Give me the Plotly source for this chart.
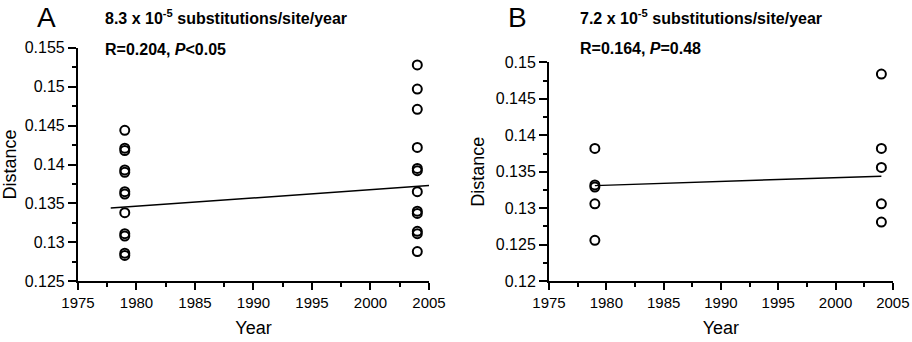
import plotly.graph_objects as go

# ---- data ----
years_a_1979 = [1979] * 12
dist_a_1979 = [0.1444, 0.1421, 0.1418, 0.1393, 0.1390, 0.1365, 0.1362, 0.1338, 0.1311, 0.1308, 0.1286, 0.1283]
years_a_2004 = [2004] * 12
dist_a_2004 = [0.1528, 0.1497, 0.1471, 0.1422, 0.1395, 0.1392, 0.1365, 0.1340, 0.1337, 0.1314, 0.1311, 0.1288]
fit_a_years = [1977.8, 2005]
fit_a_dist = [0.1344, 0.1373]

years_b_1979 = [1979] * 5
dist_b_1979 = [0.1382, 0.1332, 0.1329, 0.1306, 0.1256]
years_b_2004 = [2004] * 5
dist_b_2004 = [0.1484, 0.1382, 0.1356, 0.1306, 0.1281]
fit_b_years = [1979, 2004]
fit_b_dist = [0.1331, 0.1344]

x_ticks = [1975, 1980, 1985, 1990, 1995, 2000, 2005]
x_ticktext = ["1975", "1980", "1985", "1990", "1995", "2000", "2005"]
ya_ticks = [0.125, 0.13, 0.135, 0.14, 0.145, 0.15, 0.155]
ya_ticktext = ["0.125", "0.13", "0.135", "0.14", "0.145", "0.15", "0.155"]
yb_ticks = [0.12, 0.125, 0.13, 0.135, 0.14, 0.145, 0.15]
yb_ticktext = ["0.12", "0.125", "0.13", "0.135", "0.14", "0.145", "0.15"]

FONT = "Liberation Sans, Arial, Helvetica, sans-serif"

marker = dict(symbol="circle-open", size=9, color="black", line=dict(width=2, color="black"))

fig = go.Figure()
fig.add_trace(go.Scatter(x=years_a_1979 + years_a_2004, y=dist_a_1979 + dist_a_2004,
                         mode="markers", marker=marker, xaxis="x", yaxis="y", showlegend=False))
fig.add_trace(go.Scatter(x=fit_a_years, y=fit_a_dist, mode="lines",
                         line=dict(color="black", width=1.5), xaxis="x", yaxis="y", showlegend=False))
fig.add_trace(go.Scatter(x=years_b_1979 + years_b_2004, y=dist_b_1979 + dist_b_2004,
                         mode="markers", marker=marker, xaxis="x2", yaxis="y2", showlegend=False))
fig.add_trace(go.Scatter(x=fit_b_years, y=fit_b_dist, mode="lines",
                         line=dict(color="black", width=1.5), xaxis="x2", yaxis="y2", showlegend=False))

common_x = dict(range=[1975, 2005], tickvals=x_ticks, ticktext=x_ticktext, automargin=False,
                showline=True, linecolor="black", linewidth=2, ticks="outside",
                ticklen=7, tickwidth=1.5, tickcolor="black", showgrid=False, zeroline=False,
                tickfont=dict(size=15, color="black", family=FONT),
                minor=dict(dtick=2.5, tick0=1975, ticks="outside", ticklen=4, tickwidth=1.5, tickcolor="black", showgrid=False),
                title=dict(text="Year", font=dict(size=18, color="black", family=FONT), standoff=11))
common_y = dict(showline=True, linecolor="black", linewidth=2, ticks="outside", automargin=False,
                ticklen=8, tickwidth=1.5, tickcolor="black", showgrid=False, zeroline=False,
                tickfont=dict(size=16, color="black", family=FONT),
                title=dict(text="Distance", font=dict(size=18, color="black", family=FONT), standoff=6))

fig.update_layout(
    width=912, height=342,
    margin=dict(l=0, r=0, t=0, b=0),
    paper_bgcolor="white", plot_bgcolor="white",
    font=dict(family=FONT, color="black"),
    xaxis=dict(domain=[0.0855, 0.4704], anchor="y", **common_x),
    yaxis=dict(domain=[0.178, 0.860], anchor="x", range=[0.125, 0.155],
               tickvals=ya_ticks, ticktext=ya_ticktext,
               minor=dict(dtick=0.0025, tick0=0.125, ticks="outside", ticklen=4, tickwidth=1.5, tickcolor="black", showgrid=False),
               **common_y),
    xaxis2=dict(domain=[0.602, 0.979], anchor="y2", **common_x),
    yaxis2=dict(domain=[0.178, 0.8175], anchor="x2", range=[0.12, 0.15],
                tickvals=yb_ticks, ticktext=yb_ticktext,
                minor=dict(dtick=0.0025, tick0=0.12, ticks="outside", ticklen=4, tickwidth=1.5, tickcolor="black", showgrid=False),
                **common_y),
)

def px_x(p):
    return p / 912.0

def px_y(p):
    return 1 - p / 342.0

# panel letters (anchored at the top edge so they are not clipped)
for letter, x in [("A", 46), ("B", 517)]:
    fig.add_annotation(text=letter, x=px_x(x), y=1.0, xref="paper", yref="paper",
                       showarrow=False, xanchor="center", yanchor="top",
                       font=dict(size=28, color="black", family=FONT))

anns = [
    ("<b>8.3 x 10<sup>-5</sup> substitutions/site/year</b>", 103, 17),
    ("<b>R=0.204, <i>P</i>&lt;0.05</b>", 103, 50),
    ("<b>7.2 x 10<sup>-5</sup> substitutions/site/year</b>", 578, 17),
    ("<b>R=0.164, <i>P</i>=0.48</b>", 578, 48),
]
for text, x, y in anns:
    fig.add_annotation(text=text, x=px_x(x), y=px_y(y), xref="paper", yref="paper",
                       showarrow=False, xanchor="left", yanchor="middle",
                       font=dict(size=16, color="black", family=FONT))

fig.write_html("out.html")
